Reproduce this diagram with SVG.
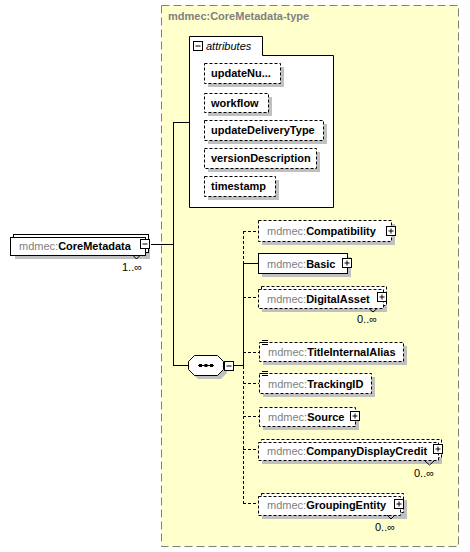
<svg xmlns="http://www.w3.org/2000/svg" width="470" height="552" viewBox="0 0 470 552">
<style>
text{font-family:"Liberation Sans",Arial,sans-serif;font-size:11px}
.b{font-weight:bold;fill:#000}
.g{fill:#808080}
.box{fill:#fff;stroke:#000;stroke-width:1}
.dbox{fill:#fff;stroke:#000;stroke-width:1;stroke-dasharray:3,2}
.sh{fill:#c0c0c0}
.ln{stroke:#000;stroke-width:1;fill:none}
.dl{stroke:#000;stroke-width:1;fill:none;stroke-dasharray:3,2}
.occ{fill:#000;font-size:11px}
</style>
<defs>
<g id="plus"><rect x="0.5" y="0.5" width="9" height="9" fill="#fff" stroke="#000"/><path d="M2.5,5H7.5M5,2.5V7.5" stroke="#000"/></g>
<g id="minus"><rect x="0.5" y="0.5" width="9" height="9" fill="#fff" stroke="#000"/><path d="M2.5,5H7.5" stroke="#000"/></g>
<g id="doc"><path d="M0,0.5H6M0,2.5H6M0,4.5H6" stroke="#000" stroke-width="1"/></g>
</defs>

<g id="type-box">
<rect x="161.5" y="5.5" width="297" height="541" fill="#ffffcc" stroke="#808080" stroke-dasharray="8,4"/>
<text x="168" y="20" class="g" font-weight="bold">mdmec:CoreMetadata-type</text>
</g>

<g id="connectors">
<path class="ln" d="M151,244.5H173.5M173.5,122V366M173,122.5H189M173,365.5H188"/>
<path class="ln" d="M234,365.5H243.5"/>
<path class="dl" d="M243.5,231V263"/>
<path class="ln" d="M243.5,263V366"/>
<path class="dl" d="M243.5,366V503.5"/>
<path class="dl" d="M243,231.5H258"/>
<path class="ln" d="M243,263.5H258"/>
<path class="dl" d="M243,297.5H258"/>
<path class="dl" d="M243,352.5H259"/>
<path class="dl" d="M243,383.5H259"/>
<path class="dl" d="M243,416.5H259"/>
<path class="dl" d="M243,449.5H258"/>
<path class="dl" d="M243,503.5H258"/>
</g>

<g id="CoreMetadata">
<rect class="sh" x="15" y="241" width="135" height="18"/>
<rect class="box" x="13.5" y="234.5" width="135" height="18"/>
<rect class="box" x="10.5" y="237.5" width="135" height="18"/>
<text x="19" y="250"><tspan class="g">mdmec:</tspan><tspan class="b">CoreMetadata</tspan></text>
<use href="#minus" x="140" y="239"/>
<path class="ln" d="M133,255.5L136.5,259L140,255.5"/>
<text class="occ" x="122" y="271">1..∞</text>
</g>

<g id="attributes">
<path d="M189.5,207.5V36.5H262.5V55.5H333.5V207.5Z" fill="#fff" stroke="#000"/>
<use href="#minus" x="193" y="41"/>
<text x="206" y="50" font-style="italic" fill="#000">attributes</text>
</g>
<g id="attr-updateNu">
<rect class="sh" x="208" y="67" width="76" height="20"/>
<rect class="dbox" x="204.5" y="63.5" width="76" height="20"/>
<text class="b" x="211" y="77">updateNu...</text>
</g>
<g id="attr-workflow">
<rect class="sh" x="208" y="97" width="64" height="19"/>
<rect class="dbox" x="204.5" y="93.5" width="64" height="19"/>
<text class="b" x="211" y="107">workflow</text>
</g>
<g id="attr-updateDeliveryType">
<rect class="sh" x="208" y="124" width="119" height="20"/>
<rect class="dbox" x="204.5" y="120.5" width="119" height="20"/>
<text class="b" x="211" y="134">updateDeliveryType</text>
</g>
<g id="attr-versionDescription">
<rect class="sh" x="208" y="152" width="112" height="20"/>
<rect class="dbox" x="204.5" y="148.5" width="112" height="20"/>
<text class="b" x="211" y="162">versionDescription</text>
</g>
<g id="attr-timestamp">
<rect class="sh" x="208" y="180" width="71" height="20"/>
<rect class="dbox" x="204.5" y="176.5" width="71" height="20"/>
<text class="b" x="211" y="190">timestamp</text>
</g>

<g id="sequence">
<polygon class="sh" points="198,359 221,359 227,365 227,373 221,379 198,379 192,373 192,365"/>
<polygon points="194.5,355.5 217.5,355.5 223.5,361.5 223.5,369.5 217.5,375.5 194.5,375.5 188.5,369.5 188.5,361.5" fill="#fff" stroke="#000"/>
<path d="M198,365.5H214" stroke="#000"/>
<rect x="199" y="364" width="3" height="3" fill="#000"/>
<rect x="204.5" y="364" width="3" height="3" fill="#000"/>
<rect x="210" y="364" width="3" height="3" fill="#000"/>
<use href="#minus" x="224" y="361"/>
</g>

<g id="Compatibility">
<rect class="sh" x="262" y="224" width="133" height="21"/>
<rect class="dbox" x="258.5" y="220.5" width="133" height="21"/>
<text x="267" y="235"><tspan class="g">mdmec:</tspan><tspan class="b">Compatibility</tspan></text>
<use href="#plus" x="386" y="226"/>
</g>

<g id="Basic">
<rect class="sh" x="262" y="257" width="89" height="20"/>
<rect class="box" x="258.5" y="253.5" width="89" height="20"/>
<text x="267" y="268"><tspan class="g">mdmec:</tspan><tspan class="b">Basic</tspan></text>
<use href="#plus" x="342" y="258"/>
</g>

<g id="DigitalAsset">
<rect class="sh" x="262" y="293" width="125" height="19"/>
<rect class="dbox" x="261.5" y="286.5" width="125" height="19"/>
<rect class="dbox" x="258.5" y="289.5" width="125" height="19"/>
<text x="267" y="303"><tspan class="g">mdmec:</tspan><tspan class="b">DigitalAsset</tspan></text>
<use href="#plus" x="377" y="292"/>
<path class="ln" d="M369,308.5L373,312L377,308.5"/>
<text class="occ" x="357" y="323">0..∞</text>
</g>

<g id="TitleInternalAlias">
<rect class="sh" x="263" y="346" width="144" height="19"/>
<rect class="dbox" x="259.5" y="342.5" width="144" height="19"/>
<use href="#doc" x="262" y="340"/>
<text x="268" y="356"><tspan class="g">mdmec:</tspan><tspan class="b">TitleInternalAlias</tspan></text>
</g>

<g id="TrackingID">
<rect class="sh" x="263" y="377" width="112" height="20"/>
<rect class="dbox" x="259.5" y="373.5" width="112" height="20"/>
<use href="#doc" x="262" y="371"/>
<text x="268" y="388"><tspan class="g">mdmec:</tspan><tspan class="b">TrackingID</tspan></text>
</g>

<g id="Source">
<rect class="sh" x="263" y="411" width="96" height="19"/>
<rect class="dbox" x="259.5" y="407.5" width="96" height="19"/>
<text x="268" y="421"><tspan class="g">mdmec:</tspan><tspan class="b">Source</tspan></text>
<use href="#plus" x="350" y="411"/>
</g>

<g id="CompanyDisplayCredit">
<rect class="sh" x="262" y="446" width="180" height="18"/>
<rect class="dbox" x="261.5" y="439.5" width="180" height="18"/>
<rect class="dbox" x="258.5" y="442.5" width="180" height="18"/>
<text x="267" y="455"><tspan class="g">mdmec:</tspan><tspan class="b">CompanyDisplayCredit</tspan></text>
<use href="#plus" x="433" y="444"/>
<path class="ln" d="M425,461L429.5,465L434,461"/>
<text class="occ" x="414" y="477">0..∞</text>
</g>

<g id="GroupingEntity">
<rect class="sh" x="262" y="500" width="145" height="19"/>
<rect class="dbox" x="261.5" y="493.5" width="142" height="19"/>
<rect class="dbox" x="258.5" y="496.5" width="142" height="19"/>
<text x="267" y="509"><tspan class="g">mdmec:</tspan><tspan class="b">GroupingEntity</tspan></text>
<use href="#plus" x="394" y="499"/>
<path class="ln" d="M387,515L391,519L395,515"/>
<text class="occ" x="375" y="531">0..∞</text>
</g>
</svg>
